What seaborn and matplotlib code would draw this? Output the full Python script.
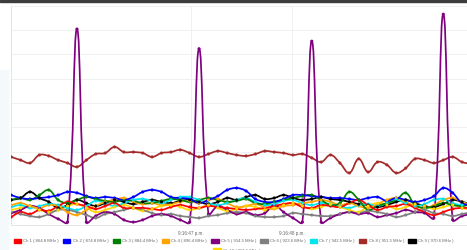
import numpy as np
import pandas as pd
import matplotlib
matplotlib.use("Agg")
import matplotlib.pyplot as plt
import seaborn as sns
from matplotlib.path import Path
from matplotlib.patches import PathPatch, Patch, Rectangle
from matplotlib.ticker import FixedLocator, FuncFormatter

# sampling: one reading every 93 ms, starting 9:16:45.220 p.m.
start_sec = 45.22
step_sec = 0.093
n_samples = 50

channels = ["Ch 1 ( 864.8 MHz )", "Ch 2 ( 874.8 MHz )", "Ch 3 ( 884.4 MHz )",
            "Ch 4 ( 896.4 MHz )", "Ch 5 ( 914.5 MHz )", "Ch 6 ( 923.6 MHz )",
            "Ch 7 ( 942.5 MHz )", "Ch 8 ( 951.5 MHz )", "Ch 9 ( 970.6 MHz )",
            "Ch 10 ( 981.5 MHz )"]
colores = ["#ff0000", "#0000ff", "#008000", "#ffa500", "#800080",
           "#808080", "#00e5ee", "#a52a2a", "#000000", "#ffd700"]

ch1 = [3.1, 5.1, 4.3, 6.0, 5.6, 7.6, 9.3, 8.4, 7.6, 6.4, 7.6, 8.8, 6.8, 6.8, 6.8, 6.4, 6.0, 7.2, 8.0, 7.2,
       6.8, 7.6, 7.2, 6.8, 6.4, 6.0, 6.4, 6.8, 7.6, 8.4, 8.8, 7.2, 6.8, 8.0, 7.6, 7.2, 8.8, 10.1, 8.0, 6.0,
       7.2, 7.6, 8.4, 6.8, 5.1, 3.9, 5.1, 6.4, 6.8, 6.8]
ch2 = [12.1, 10.9, 10.5, 10.9, 11.3, 12.1, 13.4, 13.0, 11.7, 10.9, 11.3, 10.9, 10.1, 11.3, 13.4, 14.2, 13.4, 11.3, 10.9, 10.5,
       8.8, 10.1, 11.7, 14.2, 15.0, 13.8, 10.5, 9.3, 9.3, 10.5, 12.1, 12.1, 11.7, 11.3, 10.9, 10.9, 10.5, 10.1, 10.9, 11.3,
       9.7, 10.9, 10.1, 9.3, 10.1, 11.7, 15.0, 13.0, 8.8, 8.0]
ch3 = [10.1, 10.9, 10.1, 12.1, 14.2, 10.1, 8.8, 10.1, 11.3, 10.5, 9.7, 9.3, 10.1, 9.7, 8.8, 8.8, 9.7, 10.5, 10.1, 9.3,
       10.1, 10.9, 10.1, 9.3, 9.7, 10.5, 8.8, 8.4, 9.3, 10.1, 10.9, 11.7, 12.1, 10.1, 8.0, 8.8, 13.4, 10.1, 6.0, 7.6,
       8.8, 10.1, 13.0, 8.0, 6.8, 7.6, 8.8, 8.0, 7.6, 8.4]
ch4 = [8.0, 8.8, 7.6, 6.8, 8.0, 7.6, 5.1, 3.9, 6.0, 7.6, 9.3, 10.1, 10.9, 9.3, 8.4, 8.8, 8.0, 8.4, 9.3, 9.7,
       8.8, 10.1, 10.5, 8.8, 7.2, 7.6, 8.4, 7.2, 6.4, 7.6, 8.0, 8.8, 9.3, 10.1, 9.3, 8.0, 8.8, 7.6, 6.8, 8.4,
       10.1, 10.9, 9.3, 7.6, 6.8, 8.0, 10.1, 10.9, 9.3, 8.0]
ch5 = [4.7, 6.0, 7.6, 6.8, 4.3, 2.3, 1.0, 80.4, 1.0, 3.5, 5.1, 4.3, 1.9, 1.0, 1.9, 3.5, 4.3, 3.5, 1.9, 1.0,
       72.3, 4.3, 7.6, 6.0, 4.3, 5.1, 3.9, 4.7, 8.0, 5.1, 2.7, 1.0, 75.4, 1.0, 2.7, 4.3, 5.1, 4.3, 4.7, 3.1,
       3.9, 4.7, 6.0, 5.1, 4.7, 2.7, 86.5, 1.9, 3.5, 4.3]
ch6 = [5.1, 4.3, 3.5, 3.1, 4.3, 6.0, 6.0, 5.1, 3.9, 2.7, 4.3, 5.1, 6.0, 6.8, 6.0, 4.7, 3.9, 4.3, 3.5, 3.1,
       2.7, 3.5, 3.9, 4.7, 5.1, 4.7, 3.5, 3.1, 3.1, 3.5, 4.7, 4.3, 3.9, 3.5, 3.5, 4.3, 5.1, 4.7, 5.6, 5.1,
       4.3, 3.1, 3.9, 5.1, 6.0, 4.7, 4.3, 3.5, 4.3, 5.1]
ch7 = [7.2, 8.0, 6.8, 7.6, 8.4, 8.0, 6.8, 6.0, 7.6, 9.7, 8.8, 7.6, 8.8, 10.1, 10.5, 9.7, 8.8, 10.1, 11.3, 11.3,
       10.1, 8.8, 8.0, 8.8, 10.1, 10.9, 9.3, 8.0, 8.4, 9.7, 10.1, 8.8, 8.0, 8.8, 8.4, 7.6, 6.8, 8.0, 8.4, 7.6,
       8.8, 10.1, 8.8, 7.6, 8.4, 10.1, 10.5, 8.8, 8.0, 8.8]
ch8 = [27.8, 26.5, 25.3, 28.6, 28.2, 26.5, 25.3, 23.7, 26.5, 29.0, 29.4, 31.9, 29.8, 29.8, 29.4, 27.8, 29.4, 29.8, 30.7, 29.4,
       27.8, 29.0, 30.2, 29.4, 28.6, 28.2, 29.0, 30.2, 29.8, 29.4, 28.6, 29.0, 27.4, 25.7, 28.6, 25.3, 21.2, 27.0, 21.6, 25.7,
       24.5, 21.2, 23.2, 27.0, 26.5, 25.3, 26.5, 27.8, 25.7, 24.9]
ch9 = [10.1, 10.9, 13.4, 10.9, 9.3, 6.8, 8.0, 10.1, 8.8, 7.6, 8.8, 10.1, 9.3, 8.4, 9.3, 10.1, 9.3, 8.8, 9.7, 10.1,
       9.3, 8.4, 9.3, 10.9, 10.1, 11.3, 12.1, 10.5, 10.9, 12.1, 10.9, 10.1, 10.5, 11.3, 10.5, 10.1, 9.3, 8.4, 8.0, 7.2,
       8.0, 9.3, 10.1, 8.8, 7.6, 7.2, 8.4, 10.1, 9.3, 8.4]
ch10 = [6.0, 6.8, 7.6, 6.0, 5.1, 6.0, 7.6, 8.4, 6.8, 5.1, 6.0, 7.2, 8.0, 6.8, 5.6, 6.4, 7.6, 8.0, 7.2, 6.0,
        6.8, 8.0, 6.8, 5.6, 6.4, 7.6, 7.2, 6.0, 6.8, 8.0, 8.8, 7.6, 6.4, 7.2, 8.4, 7.2, 6.0, 5.1, 7.6, 8.8,
        8.0, 6.4, 7.2, 8.4, 7.6, 6.4, 7.2, 8.0, 6.8, 6.0]
series = [ch1, ch2, ch3, ch4, ch5, ch6, ch7, ch8, ch9, ch10]

tick_secs = [47, 48]
tick_labels = ["9:16:47 p.m.", "9:16:48 p.m."]

t = start_sec + step_sec * np.arange(n_samples)
df = pd.concat([pd.DataFrame({"t": t, "valor": v, "canal": c}) for c, v in zip(channels, series)])

sns.set_theme(style="white")
plt.rcParams["font.family"] = ["Liberation Sans", "DejaVu Sans"]

fig = plt.figure(figsize=(4.67, 2.5), dpi=100)
fig.patch.set_facecolor("white")
ax = fig.add_axes([11 / 467, 25.5 / 250, 456 / 467, 218.8 / 250])
ax.set_xlim(45.218, 49.733)
ax.set_ylim(0, 90)

# grid
ax.yaxis.set_major_locator(FixedLocator(np.arange(0, 91, 10)))
ax.set_yticklabels([])
ax.tick_params(axis="y", length=0)
ax.xaxis.set_major_locator(FixedLocator(tick_secs))
ax.xaxis.set_major_formatter(FuncFormatter(lambda v, p: tick_labels[tick_secs.index(int(round(v)))]))
ax.tick_params(axis="x", length=3, width=0.6, color="#e2e2e2", labelsize=3.3,
               labelcolor="#666666", pad=1.5)
ax.grid(True, color="#f0f0f0", linewidth=0.7)
for lado in ["top", "right"]:
    ax.spines[lado].set_visible(False)
for lado in ["left", "bottom"]:
    ax.spines[lado].set_color("#e4e4e4")
    ax.spines[lado].set_linewidth(0.7)


def curva_suave(xs, ys, tension=0.4):
    # control points like a tension-0.4 spline, distances measured in pixels
    pix = ax.transData.transform(np.column_stack([xs, ys]))
    pts = np.column_stack([xs, ys])
    n = len(xs)
    cp_a, cp_b = [], []
    for i in range(n):
        ip, iN = max(i - 1, 0), min(i + 1, n - 1)
        d01 = np.hypot(*(pix[i] - pix[ip]))
        d12 = np.hypot(*(pix[iN] - pix[i]))
        tot = d01 + d12
        fa = tension * d01 / tot if tot else 0
        fb = tension * d12 / tot if tot else 0
        delta = pts[iN] - pts[ip]
        cp_a.append(pts[i] - fa * delta)
        cp_b.append(pts[i] + fb * delta)
    verts = [pts[0]]
    codes = [Path.MOVETO]
    for i in range(n - 1):
        verts += [cp_b[i], cp_a[i + 1], pts[i + 1]]
        codes += [Path.CURVE4] * 3
    return Path(np.array(verts), codes)


# draw last channel first so Ch 1 sits on top
for k in reversed(range(len(channels))):
    sub = df[df["canal"] == channels[k]]
    patch = PathPatch(curva_suave(sub["t"].values, sub["valor"].values),
                      facecolor="none", edgecolor=colores[k], linewidth=1.25,
                      zorder=3 + (len(channels) - k))
    ax.add_patch(patch)

sns.scatterplot(data=df, x="t", y="valor", hue="canal", hue_order=channels,
                palette=colores, s=5, linewidth=0, legend=False, ax=ax, zorder=20)
ax.set_xlabel("")
ax.set_ylabel("")

# legend below the chart
manijas = [Patch(facecolor=c, edgecolor=c) for c in colores]
leg1 = fig.legend(manijas[:9], channels[:9], loc="center", ncol=9,
                  bbox_to_anchor=(0.5, 1 - 241 / 250), frameon=False, fontsize=3.1,
                  handlelength=1.7, handleheight=1.3, handletextpad=0.5, columnspacing=1.0,
                  labelcolor="#666666")
leg2 = fig.legend(manijas[9:], channels[9:], loc="center",
                  bbox_to_anchor=(237 / 467, -0.5 / 250), frameon=False, fontsize=3.1,
                  handlelength=1.7, handleheight=1.3, handletextpad=0.5,
                  labelcolor="#666666")

# dark strip at the top and pale panel at the left border
fig.add_artist(Rectangle((0, 1 - 1.8 / 250), 1, 1.8 / 250, transform=fig.transFigure,
                         color="#3c3c3c", zorder=0))
fig.add_artist(Rectangle((0, 0), 8 / 467, 180 / 250, transform=fig.transFigure,
                         color="#f4f9fb", zorder=0))

fig.savefig("out.png", dpi=100)
